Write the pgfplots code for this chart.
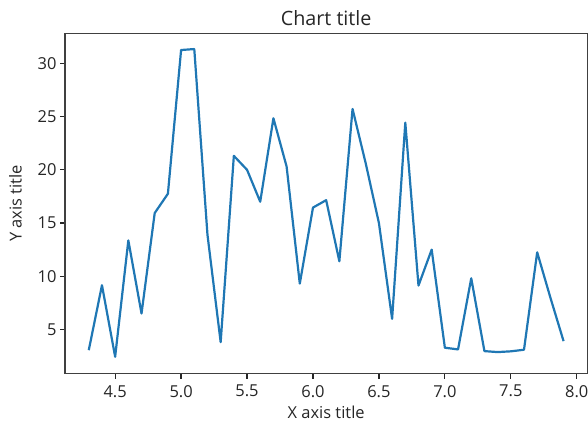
\documentclass[border=0pt]{standalone}
\usepackage{fontspec}
\setmainfont{Open Sans}
\usepackage{pgfplots}
\pgfplotsset{compat=1.18}
\definecolor{mplblue}{HTML}{1F77B4}
\definecolor{txt}{HTML}{262626}
\begin{document}
\begin{tikzpicture}
\begin{axis}[
  scale only axis,
  width=522bp, height=340bp,
  xmin=4.12, xmax=8.08, ymin=0.85, ymax=32.8,
  xtick={4.5,5.0,5.5,6.0,6.5,7.0,7.5,8.0},
  xticklabels={4.5,5.0,5.5,6.0,6.5,7.0,7.5,8.0},
  ytick={5,10,15,20,25,30},
  /pgf/number format/assume math mode=true,
  tick align=outside, tick pos=left,
  major tick length=5bp,
  every tick/.style={black!85, line width=1.2bp},
  axis line style={line width=1.2bp, black!75},
  ticklabel style={font=\fontsize{16.5}{19}\selectfont, text=txt},
  xticklabel style={yshift=-3bp},
  title={Chart title},
  title style={font=\fontsize{19.8}{23}\selectfont, text=txt, yshift=-2bp},
  xlabel={X axis title}, ylabel={Y axis title},
  label style={font=\fontsize{16.5}{19}\selectfont, text=txt},
  xlabel style={yshift=-2bp},
  ylabel style={yshift=9bp},
]
\addplot[mplblue, line width=2.2bp, line join=round] coordinates {
(4.3,3.06) (4.4,9.16) (4.5,2.44) (4.6,13.37) (4.7,6.5) (4.8,15.94) (4.9,17.75)
(5.0,31.25) (5.1,31.34) (5.2,13.9) (5.3,3.81) (5.4,21.31) (5.5,20.0) (5.6,17.0)
(5.7,24.84) (5.8,20.31) (5.9,9.31) (6.0,16.45) (6.1,17.15) (6.2,11.41) (6.3,25.72)
(6.4,20.6) (6.5,15.0) (6.6,6.0) (6.7,24.43) (6.8,9.13) (6.9,12.5) (7.0,3.29)
(7.1,3.13) (7.2,9.81) (7.3,2.97) (7.4,2.88) (7.5,2.95) (7.6,3.1) (7.7,12.25)
(7.8,8.0) (7.9,3.91)
};
\end{axis}
\pgfresetboundingbox
\path ([shift={(-65bp,-48bp)}]current axis.south west) rectangle ([shift={(0.7bp,33.5bp)}]current axis.north east);
\end{tikzpicture}
\end{document}
